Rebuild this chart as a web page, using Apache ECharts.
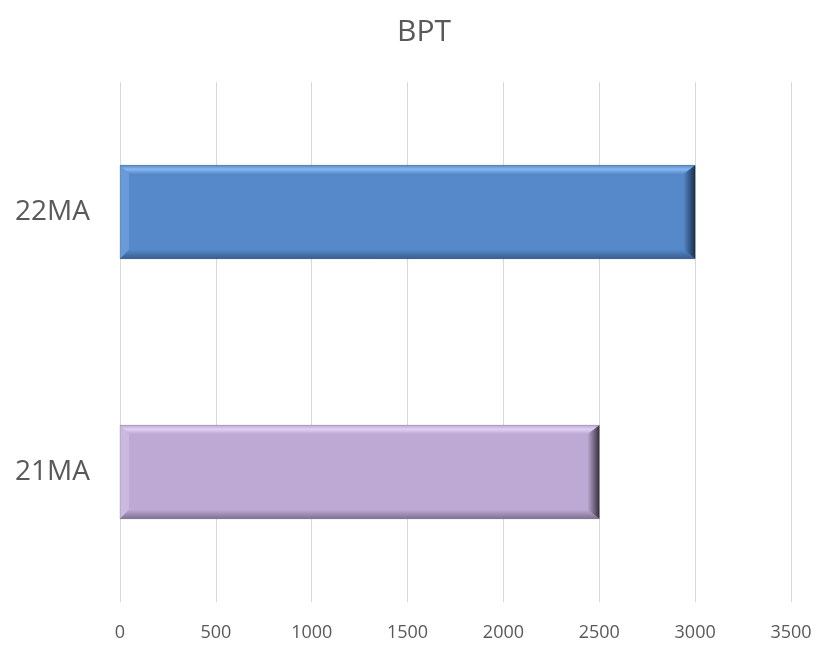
<!DOCTYPE html>
<html>
<head>
<meta charset="utf-8">
<script src="https://cdn.jsdelivr.net/npm/echarts@6/dist/echarts.min.js"></script>
<style>html,body{margin:0;padding:0;background:#fff}#c{width:818px;height:649px}</style>
</head>
<body>
<div id="c"></div>
<script>
var categories = ['21MA', '22MA'];
var values = [2500, 3000];
var xTicks = [0, 500, 1000, 1500, 2000, 2500, 3000, 3500];
var palettes = [
  {main: '#BDA9D4', top: '#E0D0F4', left: '#CBB9E0', bottom: '#7F7090', right: '#36303F'},
  {main: '#5589C9', top: '#86B7F0', left: '#6A9BD8', bottom: '#375D8F', right: '#1A2F4A'}
];

var chart = echarts.init(document.getElementById('c'));
chart.setOption({
  animation: false,
  title: {
    text: 'BPT', left: 392, top: 12,
    textStyle: {color: '#595959', fontSize: 30, fontWeight: 'normal', fontFamily: 'Open Sans'}
  },
  grid: {left: 120, right: 27, top: 82, bottom: 47, containLabel: false},
  xAxis: {
    type: 'value', min: xTicks[0], max: xTicks[xTicks.length - 1], interval: 500,
    axisLine: {show: false}, axisTick: {show: false},
    axisLabel: {color: '#595959', fontSize: 18, fontFamily: 'Open Sans', margin: 22,
      formatter: function (v) { return String(v); }},
    splitLine: {show: true, lineStyle: {color: '#D9D9D9', width: 1}}
  },
  yAxis: {
    type: 'category', data: categories,
    axisLine: {show: false}, axisTick: {show: false},
    axisLabel: {color: '#595959', fontSize: 28, fontFamily: 'Open Sans', margin: 30}
  },
  series: [{
    type: 'custom',
    data: values.map(function (v, i) { return [v, i]; }),
    encode: {x: 0, y: 1},
    renderItem: function (params, api) {
      var idx = api.value(1);
      var p0 = api.coord([0, idx]);
      var p1 = api.coord([api.value(0), idx]);
      var bandH = api.size([0, 1])[1];
      var h = bandH * 0.36;
      var x0 = p0[0], x1 = p1[0], y0 = p0[1] - h / 2, y1 = p0[1] + h / 2;
      var b = 9;
      var c = palettes[idx];
      return {
        type: 'group',
        children: [
          {type: 'rect', shape: {x: x0, y: y0, width: x1 - x0, height: h}, style: {fill: c.main}},
          {type: 'polygon', shape: {points: [[x0, y0], [x1, y0], [x1 - b * 1.3, y0 + b], [x0 + b, y0 + b]]},
            style: {fill: new echarts.graphic.LinearGradient(0, 0, 0, 1, [{offset: 0, color: c.main}, {offset: 0.45, color: c.top}, {offset: 1, color: c.main}])}},
          {type: 'polygon', shape: {points: [[x0, y0], [x0 + b, y0 + b], [x0 + b, y1 - b], [x0, y1]]},
            style: {fill: c.left}},
          {type: 'polygon', shape: {points: [[x0, y1], [x0 + b, y1 - b], [x1 - b * 1.3, y1 - b], [x1, y1]]},
            style: {fill: new echarts.graphic.LinearGradient(0, 0, 0, 1, [{offset: 0, color: c.main}, {offset: 1, color: c.bottom}])}},
          {type: 'polygon', shape: {points: [[x1, y0], [x1, y1], [x1 - b * 1.3, y1 - b], [x1 - b * 1.3, y0 + b]]},
            style: {fill: new echarts.graphic.LinearGradient(0, 0, 1, 0, [{offset: 0, color: c.main}, {offset: 1, color: c.right}])}},
          {type: 'rect', shape: {x: x0, y: y0, width: x1 - x0, height: h},
            style: {fill: 'none', stroke: 'rgba(0,0,0,0.15)', lineWidth: 1}}
        ]
      };
    }
  }]
});
</script>
</body>
</html>
